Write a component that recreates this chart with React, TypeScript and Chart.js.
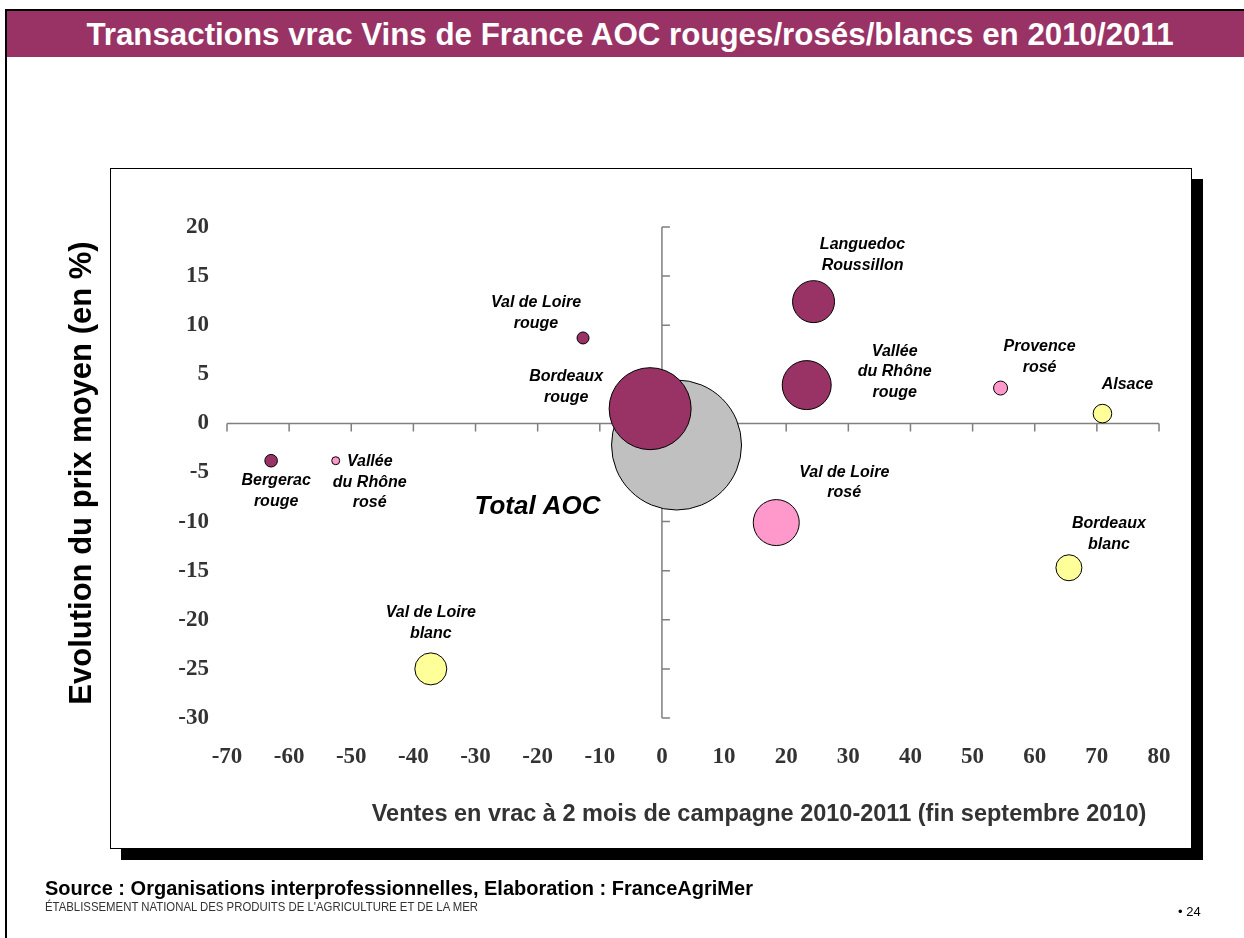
import React, { useEffect, useRef } from 'react';
import { Chart, registerables } from 'chart.js';

Chart.register(...registerables);

// ---------- Data ----------
const regionNames = [
  'Total AOC',
  'Bergerac rouge',
  'Val de Loire rouge',
  'Bordeaux rouge',
  'Languedoc Roussillon',
  'Vallée du Rhône rouge',
  'Vallée du Rhône rosé',
  'Val de Loire rosé',
  'Provence rosé',
  'Val de Loire blanc',
  'Bordeaux blanc',
  'Alsace',
];
const regionCategory = ['total', 'rouge', 'rouge', 'rouge', 'rouge', 'rouge', 'rose', 'rose', 'rose', 'blanc', 'blanc', 'blanc'];
// Ventes en vrac (évolution %, x)
const salesChange = [2.35, -62.9, -12.7, -1.9, 24.4, 23.3, -52.5, 18.4, 54.5, -37.2, 65.5, 70.9];
// Evolution du prix moyen (%, y)
const priceChange = [-2.2, -3.8, 8.7, 1.5, 12.4, 3.9, -3.8, -10.1, 3.6, -25.0, -14.7, 1.0];
// Bubble radius (volume)
const bubbleRadius = [65, 6.3, 6, 41, 21, 24.5, 4, 23, 7, 16, 13, 9.3];

const xTickValues = [-70, -60, -50, -40, -30, -20, -10, 0, 10, 20, 30, 40, 50, 60, 70, 80];
const yTickValues = [-30, -25, -20, -15, -10, -5, 0, 5, 10, 15, 20];

// label lines and their offset from the bubble centre
const labelLines = [
  ['Total AOC'],
  ['Bergerac', 'rouge'],
  ['Val de Loire', 'rouge'],
  ['Bordeaux', 'rouge'],
  ['Languedoc', 'Roussillon'],
  ['Vallée', 'du Rhône', 'rouge'],
  ['Vallée', 'du Rhône', 'rosé'],
  ['Val de Loire', 'rosé'],
  ['Provence', 'rosé'],
  ['Val de Loire', 'blanc'],
  ['Bordeaux', 'blanc'],
  ['Alsace'],
];
const labelOffsets = [
  [-139, 62],
  [5, 20],
  [-47, -35],
  [-84, -32],
  [49, -57],
  [88, -34],
  [34, 1],
  [68, -50],
  [39, -41],
  [0, -56],
  [40, -44],
  [25, -29],
];

// drawing order: Chart.js paints the first dataset on top, so "total" comes last
const categoryOrder = ['rouge', 'rose', 'blanc', 'total'];
const categoryColors: Record<string, string> = {
  total: '#C0C0C0',
  rouge: '#993366',
  rose: '#FF99CC',
  blanc: '#FFFF99',
};

const SANS = '"Liberation Sans", Arial, sans-serif';
const SERIF = '"Liberation Serif", "Times New Roman", serif';

const crossAxesPlugin = {
  id: 'crossAxes',
  beforeDatasetsDraw(chart: any) {
    const { ctx, scales } = chart;
    const xs = scales.x;
    const ys = scales.y;
    const x0 = xs.getPixelForValue(0);
    const y0 = ys.getPixelForValue(0);
    ctx.save();
    ctx.strokeStyle = '#7f7f7f';
    ctx.lineWidth = 1.5;
    ctx.beginPath();
    ctx.moveTo(xs.getPixelForValue(xTickValues[0]), y0);
    ctx.lineTo(xs.getPixelForValue(xTickValues[xTickValues.length - 1]), y0);
    xTickValues.forEach((v) => {
      const px = xs.getPixelForValue(v);
      ctx.moveTo(px, y0);
      ctx.lineTo(px, y0 + 8);
    });
    ctx.moveTo(x0, ys.getPixelForValue(yTickValues[yTickValues.length - 1]));
    ctx.lineTo(x0, ys.getPixelForValue(yTickValues[0]));
    yTickValues.forEach((v) => {
      const py = ys.getPixelForValue(v);
      ctx.moveTo(x0, py);
      ctx.lineTo(x0 + 8, py);
    });
    ctx.stroke();
    ctx.restore();
  },
};

const bubbleLabelPlugin = {
  id: 'bubbleLabels',
  afterDatasetsDraw(chart: any) {
    const { ctx } = chart;
    ctx.save();
    ctx.fillStyle = '#000';
    ctx.textAlign = 'center';
    ctx.textBaseline = 'middle';
    chart.data.datasets.forEach((ds: any, di: number) => {
      const meta = chart.getDatasetMeta(di);
      meta.data.forEach((el: any, i: number) => {
        const idx = ds.indices[i];
        const lines = labelLines[idx];
        const [dx, dy] = labelOffsets[idx];
        const big = regionCategory[idx] === 'total';
        ctx.font = big ? `italic bold 26px ${SANS}` : `italic bold 16px ${SANS}`;
        const lh = 20.5;
        lines.forEach((line: string, li: number) => {
          ctx.fillText(line, el.x + dx, el.y + dy + li * lh);
        });
      });
    });
    ctx.restore();
  },
};

function buildDatasets() {
  return categoryOrder.map((cat) => {
    const indices = regionNames.map((_, i) => i).filter((i) => regionCategory[i] === cat);
    return {
      label: cat,
      indices,
      data: indices.map((i) => ({ x: salesChange[i], y: priceChange[i], r: bubbleRadius[i] })),
      backgroundColor: categoryColors[cat],
      borderColor: '#000',
      borderWidth: 1,
      hoverRadius: 0,
    };
  });
}

function BubbleChart() {
  const ref = useRef<HTMLCanvasElement>(null);
  useEffect(() => {
    if (!ref.current) return;
    const chart = new Chart(ref.current, {
      type: 'bubble',
      data: { datasets: buildDatasets() as any },
      options: {
        responsive: false,
        animation: false,
        events: [],
        layout: { padding: { left: 120, top: 227, right: 85, bottom: 160 } },
        plugins: { legend: { display: false }, tooltip: { enabled: false }, title: { display: false } },
        scales: {
          x: {
            type: 'linear',
            min: xTickValues[0],
            max: xTickValues[xTickValues.length - 1],
            afterFit: (s: any) => { s.height = 60; },
            afterBuildTicks: (s: any) => { s.ticks = xTickValues.map((v) => ({ value: v })); },
            grid: { display: false, drawTicks: false },
            border: { display: false },
            ticks: {
              padding: 25,
              color: '#333',
              font: { family: SERIF, size: 23, weight: 'bold' },
              maxRotation: 0,
              autoSkip: false,
            },
          },
          y: {
            type: 'linear',
            min: yTickValues[0],
            max: yTickValues[yTickValues.length - 1],
            afterFit: (s: any) => { s.width = 107; },
            afterBuildTicks: (s: any) => { s.ticks = yTickValues.map((v) => ({ value: v })); },
            grid: { display: false, drawTicks: false },
            border: { display: false },
            ticks: {
              padding: 18,
              color: '#333',
              font: { family: SERIF, size: 23, weight: 'bold' },
              autoSkip: false,
            },
          },
        },
      },
      plugins: [crossAxesPlugin, bubbleLabelPlugin],
    });
    return () => chart.destroy();
  }, []);
  return (
    <canvas
      ref={ref}
      width={1244}
      height={938}
      style={{ position: 'absolute', left: 0, top: 0, width: 1244, height: 938 }}
    />
  );
}

export default function App() {
  return (
    <div style={{ position: 'fixed', left: 0, top: 0, width: 1244, height: 938, background: '#fff', overflow: 'hidden', fontFamily: SANS }}>
      {/* slide frame */}
      <div style={{ position: 'absolute', left: 5, top: 9, width: 1250, height: 940, borderTop: '2px solid #000', borderLeft: '2px solid #000' }} />
      {/* title bar */}
      <div style={{ position: 'absolute', left: 7, top: 11, width: 1237, height: 46, background: '#993366' }} />
      <div style={{ position: 'absolute', left: 0, top: 12, width: 1260, height: 46, lineHeight: '46px', textAlign: 'center', color: '#fff', fontWeight: 'bold', fontSize: 31.3, whiteSpace: 'nowrap' }}>
        Transactions vrac Vins de France AOC rouges/rosés/blancs en 2010/2011
      </div>
      {/* chart frame */}
      <div style={{ position: 'absolute', left: 110, top: 168, width: 1082, height: 681, boxSizing: 'border-box', border: '1px solid #000', background: '#fff', boxShadow: '11px 11px 0 #000' }} />
      <BubbleChart />
      {/* axis titles */}
      <div style={{ position: 'absolute', left: 81 - 300, top: 473 - 20, width: 600, height: 40, lineHeight: '40px', textAlign: 'center', transform: 'rotate(-90deg)', fontWeight: 'bold', fontSize: 31, color: '#000', whiteSpace: 'nowrap' }}>
        Evolution du prix moyen (en %)
      </div>
      <div style={{ position: 'absolute', left: 759 - 500, top: 813 - 15, width: 1000, height: 30, lineHeight: '30px', textAlign: 'center', fontWeight: 'bold', fontSize: 23.5, color: '#333', whiteSpace: 'nowrap' }}>
        Ventes en vrac à 2 mois de campagne 2010-2011 (fin septembre 2010)
      </div>
      {/* footer */}
      <div style={{ position: 'absolute', left: 45, top: 876, fontWeight: 'bold', fontSize: 20, lineHeight: '24px', color: '#000', whiteSpace: 'nowrap' }}>
        Source : Organisations interprofessionnelles, Elaboration : FranceAgriMer
      </div>
      <div style={{ position: 'absolute', left: 45, top: 899, fontSize: 13, lineHeight: '15px', color: '#333', whiteSpace: 'nowrap', transform: 'scaleX(0.875)', transformOrigin: '0 0' }}>
        ÉTABLISSEMENT NATIONAL DES PRODUITS DE L'AGRICULTURE ET DE LA MER
      </div>
      <div style={{ position: 'absolute', left: 1178, top: 904, fontSize: 13, lineHeight: '16px', color: '#000', whiteSpace: 'nowrap' }}>
        • 24
      </div>
    </div>
  );
}
